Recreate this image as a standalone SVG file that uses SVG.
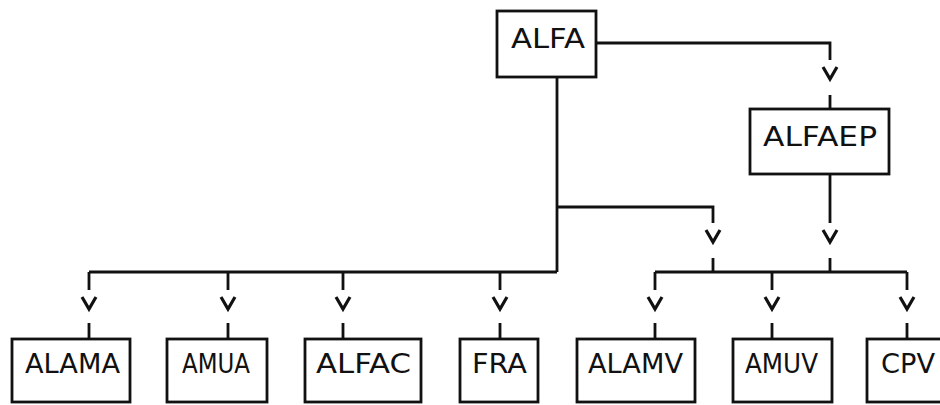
<svg xmlns="http://www.w3.org/2000/svg" width="940" height="405" viewBox="0 0 940 405">
<style>
.box{fill:none;stroke:#111;stroke-width:2.8}
.ln{fill:none;stroke:#111;stroke-width:2.8}
.lbl{font-family:"DejaVu Sans","Liberation Sans",sans-serif;font-size:26px;fill:#111}
</style>
<defs>
<path id="v" d="M-7,0 L0,12 L7,0" fill="none" stroke="#111" stroke-width="3.2" stroke-linejoin="miter"/>
</defs>
<rect width="940" height="405" fill="#fff"/>
<g id="connectors">
<path class="ln" d="M596,43 H830 V60 M830,95 V109"/>
<use href="#v" x="830" y="67"/>
<path class="ln" d="M557,77 V272 M557,207 H713 V223 M713,258 V272"/>
<use href="#v" x="713" y="230"/>
<path class="ln" d="M830,174 V223 M830,258 V272"/>
<use href="#v" x="830" y="230"/>
<path class="ln" d="M89,272 H557 M655,272 H907"/>
<path class="ln" d="M89,272 V290 M89,323 V339 M228,272 V290 M228,323 V339 M343,272 V290 M343,323 V339 M500,272 V290 M500,323 V339 M655,272 V290 M655,323 V339 M772,272 V290 M772,323 V339 M907,272 V290 M907,323 V339"/>
<use href="#v" x="89" y="297"/>
<use href="#v" x="228" y="297"/>
<use href="#v" x="343" y="297"/>
<use href="#v" x="500" y="297"/>
<use href="#v" x="655" y="297"/>
<use href="#v" x="772" y="297"/>
<use href="#v" x="907" y="297"/>
</g>
<g id="node-alfa"><rect class="box" x="497" y="11" width="99" height="66"/><text class="lbl" x="511" y="48" textLength="74" lengthAdjust="spacingAndGlyphs">ALFA</text></g>
<g id="node-alfaep"><rect class="box" x="750" y="109" width="139" height="65"/><text class="lbl" x="763" y="146" textLength="114" lengthAdjust="spacingAndGlyphs">ALFAEP</text></g>
<g id="node-alama"><rect class="box" x="12" y="339" width="118" height="63"/><text class="lbl" x="25" y="373" textLength="95" lengthAdjust="spacingAndGlyphs">ALAMA</text></g>
<g id="node-amua"><rect class="box" x="167" y="339" width="100" height="63"/><text class="lbl" x="182" y="373" textLength="68" lengthAdjust="spacingAndGlyphs">AMUA</text></g>
<g id="node-alfac"><rect class="box" x="305" y="339" width="116" height="63"/><text class="lbl" x="316" y="373" textLength="95" lengthAdjust="spacingAndGlyphs">ALFAC</text></g>
<g id="node-fra"><rect class="box" x="460" y="339" width="78" height="63"/><text class="lbl" x="472" y="373" textLength="55" lengthAdjust="spacingAndGlyphs">FRA</text></g>
<g id="node-alamv"><rect class="box" x="577" y="339" width="118" height="63"/><text class="lbl" x="588" y="373" textLength="95" lengthAdjust="spacingAndGlyphs">ALAMV</text></g>
<g id="node-amuv"><rect class="box" x="733" y="339" width="99" height="63"/><text class="lbl" x="745" y="373" textLength="73" lengthAdjust="spacingAndGlyphs">AMUV</text></g>
<g id="node-cpv"><rect class="box" x="867" y="339" width="100" height="63"/><text class="lbl" x="881" y="373" textLength="54" lengthAdjust="spacingAndGlyphs">CPV</text></g>
</svg>
